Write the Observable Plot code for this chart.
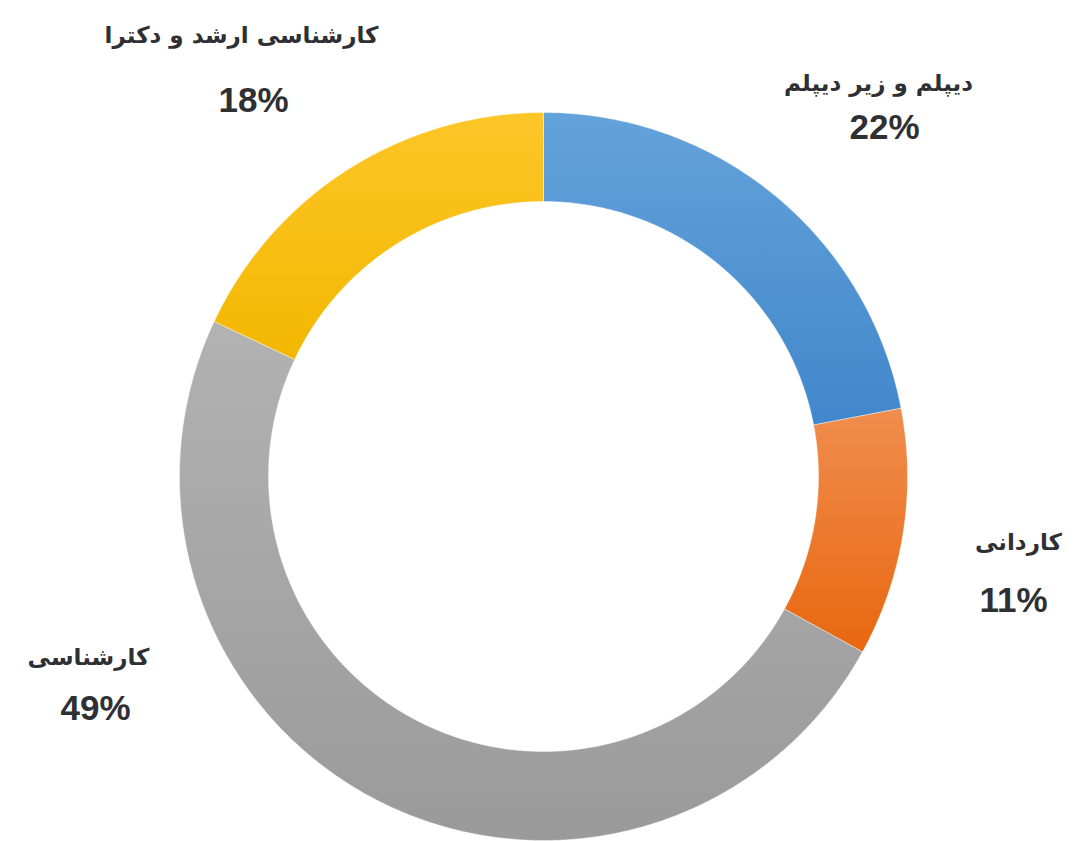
<!DOCTYPE html>
<html>
<head>
<meta charset="utf-8">
<script src="https://cdn.jsdelivr.net/npm/d3@7"></script>
<script src="https://cdn.jsdelivr.net/npm/@observablehq/plot@0.6"></script>
<style>
  html, body { margin: 0; padding: 0; background: #fff; }
  #chart svg { display: block; }
</style>
</head>
<body>
<div id="chart"></div>
<script>
// ---- data ----
const categories = ["دیپلم و زیر دیپلم", "کاردانی", "کارشناسی", "کارشناسی ارشد و دکترا"];
const shares = [22, 11, 49, 18];
const percentLabels = ["22%", "11%", "49%", "18%"];
// gradient colours (top, bottom) per slice
const colorsTop = ["#64a2da", "#f08d4e", "#b2b2b2", "#fdc628"];
const colorsBottom = ["#4187cb", "#e8670f", "#9a9a9a", "#f3b700"];

// ---- layout ----
const W = 1074, H = 841;
const cx = 543, cy = 476;
const R = 364, r = 275;
// label anchors relative to the ring centre (x right, y up), tuned to the reference
const labelLayout = [
  {nx: 335, ny: 393, px: 341, py: 349},
  {nx: 475, ny: -66, px: 470, py: -124},
  {nx: -455, ny: -181, px: -448, py: -232},
  {nx: -302, ny: 441, px: -290, py: 376}
];

const pie = d3.pie().sort(null).value(d => d)(shares);
const deg = Math.PI / 180;

const rings = pie.map((p, i) => {
  const a0 = p.startAngle, a1 = p.endAngle;
  const n = Math.max(2, Math.ceil((a1 - a0) / (0.4 * deg)));
  const pts = [];
  for (let k = 0; k <= n; k++) {
    const a = a0 + (a1 - a0) * k / n;
    pts.push({x: R * Math.sin(a), y: R * Math.cos(a)});
  }
  for (let k = n; k >= 0; k--) {
    const a = a0 + (a1 - a0) * k / n;
    pts.push({x: r * Math.sin(a), y: r * Math.cos(a)});
  }
  pts.push(pts[0]);
  return pts;
});

const labels = categories.map((c, i) => ({name: c, pct: percentLabels[i], ...labelLayout[i]}));

const defsMark = () => {
  const defs = d3.create("svg:defs");
  categories.forEach((c, i) => {
    const g = defs.append("linearGradient")
      .attr("id", "grad" + i).attr("x1", 0).attr("y1", 0).attr("x2", 0).attr("y2", 1);
    g.append("stop").attr("offset", "0%").attr("stop-color", colorsTop[i]);
    g.append("stop").attr("offset", "100%").attr("stop-color", colorsBottom[i]);
  });
  return defs.node();
};

const chart = Plot.plot({
  width: W, height: H,
  margin: 0,
  x: {domain: [-cx, W - cx], range: [0, W], axis: null},
  y: {domain: [-(H - cy), cy], range: [H, 0], axis: null},
  marks: [
    defsMark,
    ...rings.map((pts, i) => Plot.line(pts, {
      x: "x", y: "y", fill: `url(#grad${i})`, stroke: "#ffffff", strokeWidth: 0.8, strokeOpacity: 0.5, curve: "linear"
    })),
    Plot.text(labels, {
      x: "nx", y: "ny", text: "name",
      fontFamily: "DejaVu Sans", fontWeight: "bold", fontSize: 23, fill: "#2f3033"
    }),
    Plot.text(labels, {
      x: "px", y: "py", text: "pct",
      fontFamily: "Liberation Sans", fontWeight: "bold", fontSize: 35, fill: "#2f3033"
    })
  ]
});
document.getElementById("chart").appendChild(chart);
</script>
</body>
</html>
